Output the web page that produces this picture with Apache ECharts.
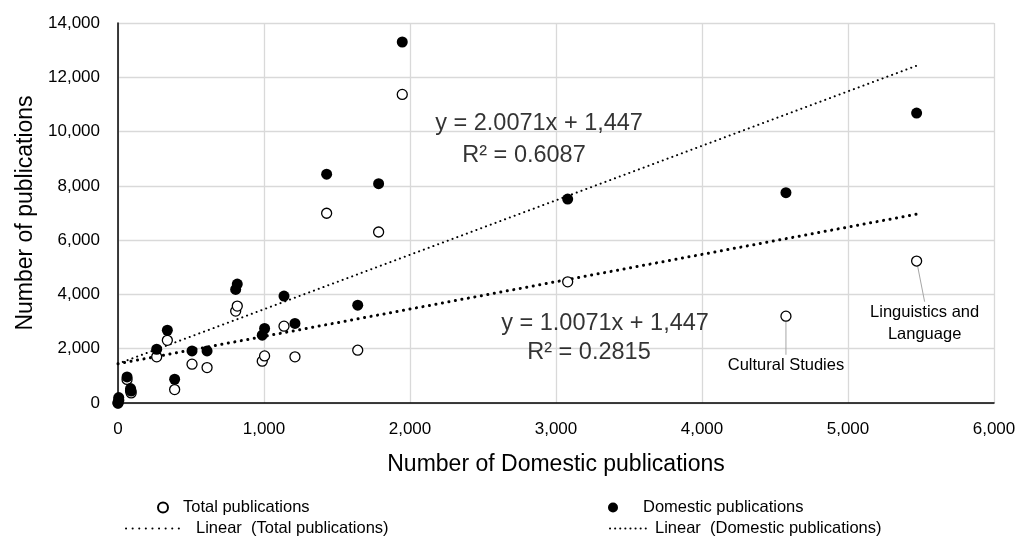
<!DOCTYPE html>
<html>
<head>
<meta charset="utf-8">
<title>Publications scatter</title>
<script src="https://cdn.jsdelivr.net/npm/echarts@6/dist/echarts.min.js"></script>
<style>
  html, body { margin: 0; padding: 0; background: #fff; }
  #chart { width: 1031px; height: 537px; }
</style>
</head>
<body>
<div id="chart"></div>
<script>
// number of domestic publications per field (x axis)
const domesticX = [0, 5, 62, 86, 90, 265, 338, 388, 507, 610, 806, 817, 988, 1004, 1137, 1212, 1429, 1642, 1785, 1947, 3080, 4575, 5470]
// total publications (open circles)
const totalPubs = [0, 100, 870, 450, 370, 1700, 2310, 494, 1430, 1305, 3385, 3570, 1540, 1735, 2830, 1700, 6990, 1945, 6300, 11370, 4465, 3200, 5230]
// domestic publications (filled circles)
const domesticPubs = [0, 200, 960, 530, 440, 1980, 2680, 875, 1920, 1920, 4185, 4380, 2500, 2745, 3940, 2930, 8430, 3605, 8080, 13300, 7515, 7750, 10680]

// trend line end points
const trendX = [0, 5470]
const trendTotal = [1447, 6956]
const trendDomestic = [1447, 12426]

// equation labels
const eqText = ['y = 2.0071x + 1,447', 'R² = 0.6087', 'y = 1.0071x + 1,447', 'R² = 0.2815']
const eqX = [2884, 2781, 3336, 3226]
const eqY = [10285, 9103, 2940, 1870]

// annotated fields
const noteIndex = [21, 22]
const noteText = ['Cultural Studies', 'Linguistics and\nLanguage']
const noteShift = [[0, 28], [8, 30]]

const mainFont = "'Liberation Sans', Arial, sans-serif"

const fmt = v => v.toLocaleString('en-US')

const totalData = domesticX.map((x, i) => {
  const k = noteIndex.indexOf(i)
  const item = { value: [x, totalPubs[i]] }
  if (k >= 0) {
    item.name = noteText[k]
    item.label = { show: true }
  }
  return item
})

const chart = echarts.init(document.getElementById('chart'))

const legendBase = {
  orient: 'vertical',
  itemHeight: 10,
  selectedMode: false,
  textStyle: { fontFamily: mainFont, fontSize: 16.5, color: '#000' }
}

const option = {
  animation: false,
  backgroundColor: '#fff',
  grid: { left: 118, right: 37, top: 23, bottom: 134 },
  legend: [
    { ...legendBase, data: ['Total publications'], left: 152, top: 494, itemWidth: 30 },
    { ...legendBase, data: ['Linear  (Total publications)'], left: 120, top: 515, itemWidth: 55,
      textStyle: { ...legendBase.textStyle, padding: [0, 0, 0, 10] } },
    { ...legendBase, data: ['Domestic publications'], left: 603, top: 494, itemWidth: 30,
      textStyle: { ...legendBase.textStyle, padding: [0, 0, 0, 10] } },
    { ...legendBase, data: ['Linear  (Domestic publications)'], left: 604, top: 515, itemWidth: 40 }
  ],
  xAxis: {
    type: 'value',
    min: 0,
    max: 6000,
    interval: 1000,
    name: 'Number of Domestic publications',
    nameLocation: 'middle',
    nameGap: 50,
    nameTextStyle: { fontFamily: mainFont, fontSize: 23, color: '#000' },
    axisLine: { show: true, onZero: false, lineStyle: { color: '#000', width: 1.5 } },
    axisTick: { show: false },
    axisLabel: { fontFamily: mainFont, fontSize: 17, color: '#000', margin: 18, formatter: fmt },
    splitLine: { show: true, lineStyle: { color: '#d9d9d9', width: 1.3 } }
  },
  yAxis: {
    type: 'value',
    min: 0,
    max: 14000,
    interval: 2000,
    name: 'Number of publications',
    nameLocation: 'middle',
    nameGap: 80,
    nameTextStyle: { fontFamily: mainFont, fontSize: 23, color: '#000' },
    axisLine: { show: true, onZero: false, lineStyle: { color: '#000', width: 1.5 } },
    axisTick: { show: false },
    axisLabel: { fontFamily: mainFont, fontSize: 17, color: '#000', margin: 18, formatter: fmt },
    splitLine: { show: true, lineStyle: { color: '#d9d9d9', width: 1.3 } }
  },
  series: [
    {
      name: 'Linear  (Total publications)',
      type: 'line',
      data: trendX.map((x, i) => [x, trendTotal[i]]),
      symbol: 'none',
      silent: true,
      itemStyle: { opacity: 0 },
      lineStyle: { color: '#000', width: 3, type: [0.1, 6.5], cap: 'round' },
      z: 2
    },
    {
      name: 'Linear  (Domestic publications)',
      type: 'line',
      data: trendX.map((x, i) => [x, trendDomestic[i]]),
      symbol: 'none',
      silent: true,
      itemStyle: { opacity: 0 },
      lineStyle: { color: '#000', width: 2, type: [0.1, 5], cap: 'round' },
      z: 2
    },
    {
      name: 'Total publications',
      type: 'scatter',
      data: totalData,
      symbol: 'circle',
      symbolSize: 10,
      itemStyle: { color: '#fff', borderColor: '#000', borderWidth: 1.3, opacity: 1 },
      label: {
        show: false,
        position: 'bottom',
        distance: 5,
        formatter: p => p.name,
        fontFamily: mainFont,
        fontSize: 16.5,
        lineHeight: 22,
        color: '#000',
        align: 'center'
      },
      labelLine: { show: true, lineStyle: { color: '#a6a6a6', width: 1 } },
      labelLayout: p => {
        const k = noteIndex.indexOf(p.dataIndex)
        if (k < 0) return {}
        return { dx: noteShift[k][0], dy: noteShift[k][1] }
      },
      z: 3
    },
    {
      name: 'Domestic publications',
      type: 'scatter',
      data: domesticX.map((x, i) => [x, domesticPubs[i]]),
      symbol: 'circle',
      symbolSize: 11,
      itemStyle: { color: '#000', opacity: 1 },
      z: 4
    },
    {
      // trend equations, placed in data space
      type: 'scatter',
      data: eqText.map((t, i) => ({ name: t, value: [eqX[i], eqY[i]] })),
      symbolSize: 0,
      silent: true,
      label: {
        show: true,
        position: 'inside',
        formatter: p => p.name,
        fontFamily: mainFont,
        fontSize: 23.5,
        color: '#000'
      },
      z: 5
    }
  ]
}

chart.setOption(option)
</script>
</body>
</html>
